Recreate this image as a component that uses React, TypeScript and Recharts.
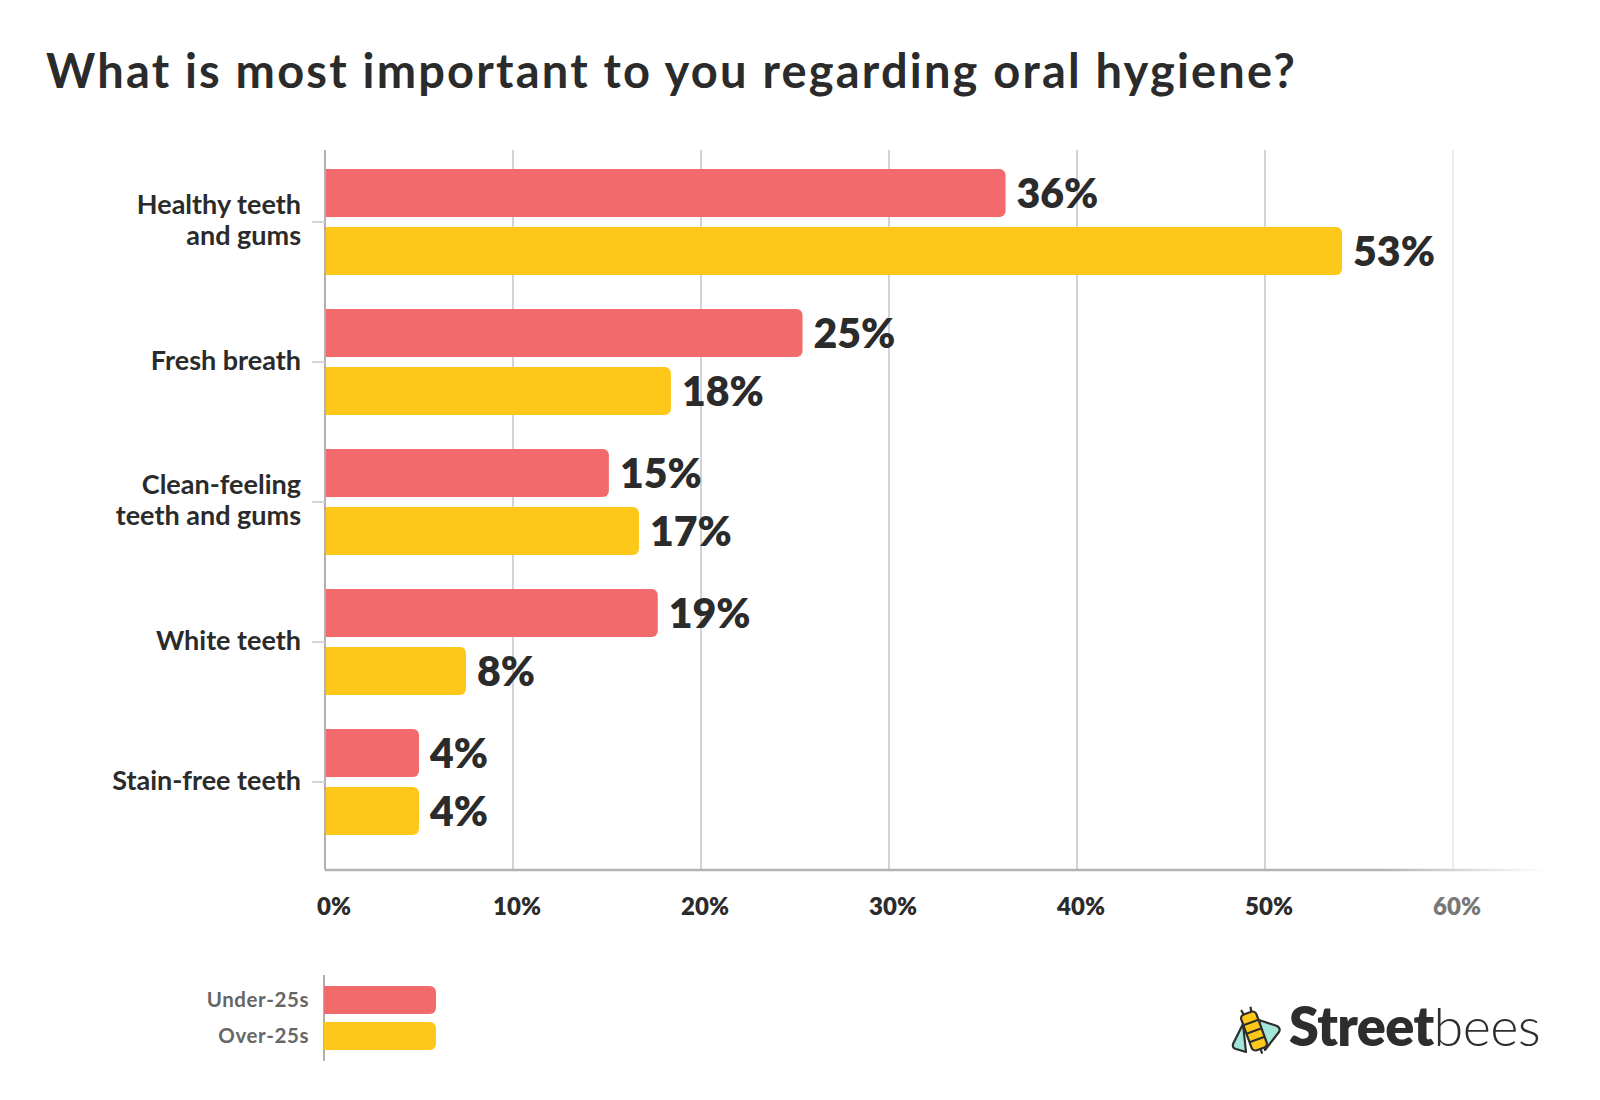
import React from 'react';
import { BarChart, Bar, XAxis, YAxis, CartesianGrid, LabelList } from 'recharts';

// Bar lengths as drawn; the printed labels are kept separately (they are rounded)
const categories = ['Healthy teeth\nand gums', 'Fresh breath', 'Clean-feeling\nteeth and gums', 'White teeth', 'Stain-free teeth'];
const under25 = [36.2, 25.4, 15.1, 17.7, 5.0];
const over25 = [54.1, 18.4, 16.7, 7.5, 5.0];
const under25Labels = ['36%', '25%', '15%', '19%', '4%'];
const over25Labels = ['53%', '18%', '17%', '8%', '4%'];
const xTicks = [0, 10, 20, 30, 40, 50, 60];

const RED = '#F26A6B';
const YELLOW = '#FEC81A';
const INK = '#2b2b2b';
const FONT = 'Lato, "Noto Sans", sans-serif';

const data = categories.map((name, i) => ({
  name,
  u25: under25[i],
  o25: over25[i],
  u25Label: under25Labels[i],
  o25Label: over25Labels[i],
}));

const CategoryTick = (props: any) => {
  const { x, y, payload } = props;
  const lines: string[] = String(payload.value).split('\n');
  const lh = 31.5;
  return (
    <g>
      {lines.map((line, i) => (
        <text
          key={i}
          x={x}
          y={y + (i - (lines.length - 1) / 2) * lh + 7.5}
          textAnchor="end"
          fontFamily={FONT}
          fontWeight={700}
          fontSize={27}
          fill={INK}
        >
          {line}
        </text>
      ))}
    </g>
  );
};

const PercentTick = (props: any) => {
  const { x, y, payload } = props;
  return (
    <text
      x={x + (payload.value === 0 ? 9 : 4)}
      y={y + 45}
      textAnchor="middle"
      fontFamily={FONT}
      fontWeight={800}
      fontSize={24}
      fill={payload.value === 60 ? '#777777' : INK}
    >
      {`${payload.value}%`}
    </text>
  );
};

const gridLine = (props: any) => {
  if (props.x1 > 1500) return <g key={props.key} />;
  return (
    <line
      key={props.key}
      x1={props.x1}
      y1={props.y1}
      x2={props.x2}
      y2={props.y2}
      stroke={props.x1 > 1440 ? '#e9e9e9' : '#c4c4c4'}
      strokeWidth={1.5}
    />
  );
};

const Bee = () => (
  <svg width={56} height={52} viewBox="0 0 56 52" style={{ position: 'absolute', left: 1229, top: 1004 }}>
    <g stroke="#2d2d2d" strokeWidth={2.2} strokeLinejoin="round">
      <path d="M14 20 L4 40 Q3 44 7 45 L17 48 Z" fill="#A3E6D9" />
      <path d="M30 16 L48 22 Q52 24 50 28 L36 46 Z" fill="#A3E6D9" />
      <g transform="rotate(-20 25 27)">
        <rect x={17} y={8} width={16} height={38} rx={4} fill={YELLOW} />
        <line x1={17} y1={18} x2={33} y2={18} />
        <line x1={17} y1={27} x2={33} y2={27} />
        <line x1={17} y1={36} x2={33} y2={36} />
        <line x1={21} y1={8} x2={20} y2={3} />
        <line x1={29} y1={8} x2={30} y2={3} />
        <line x1={25} y1={46} x2={25} y2={51} />
      </g>
    </g>
  </svg>
);

export default function App() {
  return (
    <div style={{ position: 'relative', width: 1600, height: 1100, background: '#fff', fontFamily: FONT }}>
      <style>{'body{margin:0}'}</style>
      <div
        style={{
          position: 'absolute',
          left: 46,
          top: 42,
          fontSize: 47,
          fontWeight: 700,
          color: INK,
          fontFamily: FONT,
          letterSpacing: 2.2,
          lineHeight: '56px',
          whiteSpace: 'nowrap',
        }}
      >
        What is most important to you regarding oral hygiene?
      </div>

      <div style={{ position: 'absolute', left: 0, top: 0 }}>
        <BarChart
          width={1600}
          height={940}
          data={data}
          layout="vertical"
          margin={{ top: 150, right: 53, left: 0, bottom: 10 }}
          barGap={10}
          barSize={48}
        >
          <defs>
            <linearGradient id="axisFade" gradientUnits="userSpaceOnUse" x1={1380} y1={0} x2={1547} y2={0}>
              <stop offset="0" stopColor="#b3b3b3" />
              <stop offset="1" stopColor="#ffffff" />
            </linearGradient>
          </defs>
          <CartesianGrid horizontal={false} vertical={gridLine} />
          <XAxis
            type="number"
            domain={[0, 65]}
            ticks={xTicks}
            height={60}
            tickLine={false}
            tickSize={0}
            tickMargin={0}
            axisLine={{ stroke: 'url(#axisFade)', strokeWidth: 2.5 }}
            tick={<PercentTick />}
            interval={0}
          />
          <YAxis
            type="category"
            dataKey="name"
            width={325}
            padding={{ top: 2, bottom: 18 }}
            axisLine={{ stroke: '#b0b0b0', strokeWidth: 2 }}
            tickLine={{ stroke: '#d4d4d4', strokeWidth: 2 }}
            tickSize={13}
            tickMargin={11}
            tick={<CategoryTick />}
            interval={0}
          />
          <Bar dataKey="u25" fill={RED} radius={[0, 6, 6, 0]} isAnimationActive={false}>
            <LabelList dataKey="u25Label" position="right" offset={11} fill={INK} fontSize={41} fontWeight={800} fontFamily={FONT} />
          </Bar>
          <Bar dataKey="o25" fill={YELLOW} radius={[0, 6, 6, 0]} isAnimationActive={false}>
            <LabelList dataKey="o25Label" position="right" offset={11} fill={INK} fontSize={41} fontWeight={800} fontFamily={FONT} />
          </Bar>
        </BarChart>
      </div>

      {/* legend */}
      <div style={{ position: 'absolute', left: 323, top: 975, width: 2, height: 86, background: '#b0b0b0' }} />
      {[
        { label: 'Under-25s', color: RED, top: 986 },
        { label: 'Over-25s', color: YELLOW, top: 1022 },
      ].map((item) => (
        <React.Fragment key={item.label}>
          <div
            style={{
              position: 'absolute',
              right: 1600 - 309,
              top: item.top - 1,
              height: 28,
              lineHeight: '28px',
              fontSize: 20.5,
              fontWeight: 700,
              color: '#666666',
              letterSpacing: 0.6,
            }}
          >
            {item.label}
          </div>
          <div
            style={{
              position: 'absolute',
              left: 324,
              top: item.top,
              width: 112,
              height: 27.5,
              background: item.color,
              borderRadius: '0 6px 6px 0',
            }}
          />
        </React.Fragment>
      ))}

      {/* logo */}
      <Bee />
      <div
        style={{
          position: 'absolute',
          left: 1289,
          top: 996,
          fontSize: 54,
          lineHeight: '60px',
          color: '#2d2d2d',
          whiteSpace: 'nowrap',
          letterSpacing: -0.6,
        }}
      >
        <span style={{ fontWeight: 800 }}>Street</span>
        <span style={{ fontWeight: 300 }}>bees</span>
      </div>
    </div>
  );
}
